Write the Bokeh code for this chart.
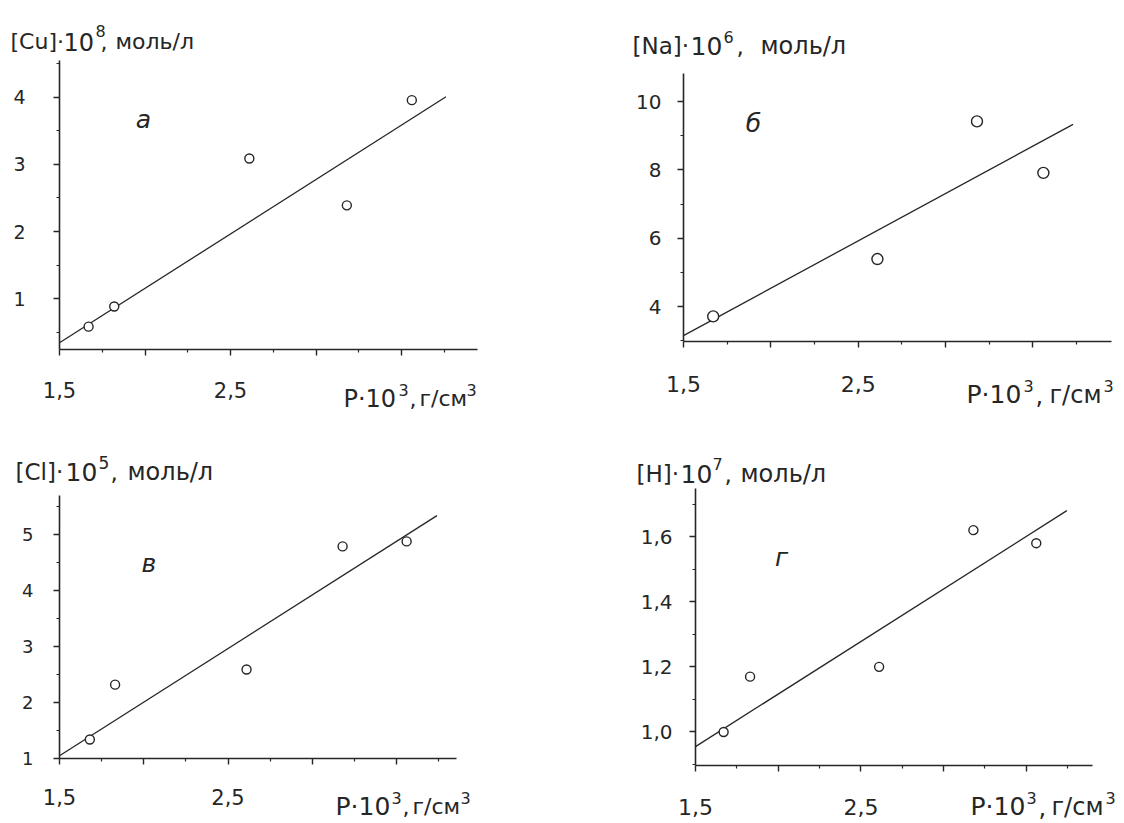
from bokeh.plotting import figure
from bokeh.models import FixedTicker, Label
from bokeh.layouts import column, row
from bokeh.embed import file_html
from bokeh.resources import INLINE

FONT = "DejaVu Sans"
INK = "#262626"

# ---------------- data ----------------
# density P*10^3, g/cm^3
cu_x = [1.67, 1.82, 2.61, 3.18, 3.56]
cu_y = [0.58, 0.88, 3.09, 2.39, 3.96]
cu_fit_x = [1.5, 3.76]
cu_fit_y = [0.34, 4.01]

na_x = [1.67, 2.61, 3.18, 3.56]
na_y = [3.71, 5.39, 9.42, 7.91]
na_fit_x = [1.5, 3.73]
na_fit_y = [3.15, 9.33]

cl_x = [1.68, 1.83, 2.61, 3.18, 3.56]
cl_y = [1.34, 2.32, 2.59, 4.79, 4.88]
cl_fit_x = [1.5, 3.74]
cl_fit_y = [1.05, 5.34]

h_x = [1.67, 1.83, 2.61, 3.18, 3.56]
h_y = [1.00, 1.17, 1.20, 1.62, 1.58]
h_fit_x = [1.5, 3.745]
h_fit_y = [0.955, 1.68]

x_major = [1.5, 2.0, 2.5, 3.0, 3.5]
x_minor = [1.75, 2.25, 2.75, 3.25, 3.75]
x_labels = ["1,5", "", "2,5", "", ""]

cu_major = [1, 2, 3, 4]
cu_minor = [0.5, 1.5, 2.5, 3.5, 4.5]
cu_labels = ["1", "2", "3", "4"]

na_major = [4, 6, 8, 10]
na_minor = [3, 5, 7, 9]
na_labels = ["4", "6", "8", "10"]

cl_major = [1, 2, 3, 4, 5]
cl_minor = [1.5, 2.5, 3.5, 4.5, 5.5]
cl_labels = ["1", "2", "3", "4", "5"]

h_major = [1.0, 1.2, 1.4, 1.6]
h_minor = [0.9, 1.1, 1.3, 1.5, 1.7]
h_labels = ["1,0", "1,2", "1,4", "1,6"]

panel_letters = ["а", "б", "в", "г"]

# ---------------- panel layout specs ----------------
# ox, oy: figure position on the page; L, R, T, B: distance from figure
# edges to the axes box; xr, yr: value extent of the axes box.
specs = [
    dict(ox=0, oy=0, w=560, h=430, L=59, R=83, T=60, B=81,
         xr=(1.5, 3.944), yr=(0.239, 4.552),
         x=cu_x, y=cu_y, fx=cu_fit_x, fy=cu_fit_y, msize=9,
         ymaj=cu_major, ymin=cu_minor, ylab=cu_labels, ysize=19, ystand=28,
         xsize=21, xstand=26, letter=(panel_letters[0], 1.99, 3.67),
         title=[("[Cu]·", 10, 41, 22), ("10", 63, 41, 24), ("8", 95, 30, 16),
                (",", 100, 41, 22), ("моль/л", 115, 41, 22)],
         xl=[("P·10", 343, 398, 24), ("3", 398, 389, 16), (",", 409, 398, 22),
             ("г/см", 419, 398, 22), ("3", 466, 389, 16)]),
    dict(ox=560, oy=0, w=564, h=430, L=123, R=13, T=73, B=89,
         xr=(1.5, 3.95), yr=(2.976, 10.82),
         x=na_x, y=na_y, fx=na_fit_x, fy=na_fit_y, msize=11,
         ymaj=na_major, ymin=na_minor, ylab=na_labels, ysize=20, ystand=16,
         xsize=22, xstand=28, letter=(panel_letters[1], 1.90, 9.35),
         title=[("[Na]·", 632, 45, 23), ("10", 690, 45, 25), ("6", 723, 36, 16),
                (",", 736, 45, 23), ("моль/л", 760, 45, 24)],
         xl=[("P·10", 966, 394, 25), ("3", 1023, 385, 16), (",", 1035, 394, 24),
             ("г/см", 1049, 394, 24), ("3", 1103, 385, 16)]),
    dict(ox=0, oy=430, w=560, h=393, L=59, R=104, T=65, B=65,
         xr=(1.5, 3.856), yr=(1.0, 5.70),
         x=cl_x, y=cl_y, fx=cl_fit_x, fy=cl_fit_y, msize=9,
         ymaj=cl_major, ymin=cl_minor, ylab=cl_labels, ysize=18, ystand=20,
         xsize=21, xstand=24, letter=(panel_letters[2], 2.03, 4.48),
         title=[("[Cl]·", 15, 471, 23), ("10", 65, 471, 25), ("5", 98, 462, 17),
                (",", 110, 471, 23), ("моль/л", 127, 471, 24)],
         xl=[("P·10", 335, 806, 25), ("3", 391, 797, 16), (",", 402, 806, 22),
             ("г/см", 412, 806, 22), ("3", 460, 797, 16)]),
    dict(ox=560, oy=430, w=564, h=393, L=135, R=32, T=58, B=58,
         xr=(1.5, 3.90), yr=(0.897, 1.748),
         x=h_x, y=h_y, fx=h_fit_x, fy=h_fit_y, msize=9,
         ymaj=h_major, ymin=h_minor, ylab=h_labels, ysize=20, ystand=17,
         xsize=22, xstand=27, letter=(panel_letters[3], 2.02, 1.535),
         title=[("[H]·", 636, 473, 23), ("10", 680, 473, 25), ("7", 712, 463, 16),
                (",", 724, 473, 23), ("моль/л", 740, 473, 24)],
         xl=[("P·10", 970, 806, 25), ("3", 1026, 797, 16), (",", 1038, 806, 24),
             ("г/см", 1051, 806, 24), ("3", 1105, 797, 16)]),
]


def scales(s):
    fw = s["w"] - s["L"] - s["R"]
    fh = s["h"] - s["T"] - s["B"]
    x0, x1 = s["xr"]
    y0, y1 = s["yr"]
    kx = fw / (x1 - x0)
    ky = fh / (y1 - y0)
    full_x = (x0 - s["L"] / kx, x1 + s["R"] / kx)
    full_y = (y0 - s["B"] / ky, y1 + s["T"] / ky)
    return kx, ky, full_x, full_y


def to_data(s, px, py):
    kx, ky, full_x, full_y = scales(s)
    return full_x[0] + (px - s["ox"]) / kx, full_y[1] - (py - s["oy"]) / ky


def make_panel(s):
    kx, ky, full_x, full_y = scales(s)
    p = figure(width=s["w"], height=s["h"], x_range=full_x, y_range=full_y,
               output_backend="svg", toolbar_location=None,
               min_border=0, min_border_left=0, min_border_right=0,
               min_border_top=0, min_border_bottom=0)
    p.outline_line_color = None
    p.grid.visible = False
    p.background_fill_color = "white"
    p.border_fill_color = "white"

    xa = p.xaxis[0]
    xa.fixed_location = s["yr"][0]
    xa.bounds = s["xr"]
    xa.ticker = FixedTicker(ticks=x_major, minor_ticks=x_minor)
    xa.major_label_overrides = {t: l for t, l in zip(x_major, x_labels)}
    xa.major_label_text_font_size = f"{s['xsize']}px"
    xa.major_label_standoff = s["xstand"]

    ya = p.yaxis[0]
    ya.fixed_location = s["xr"][0]
    ya.bounds = s["yr"]
    ya.ticker = FixedTicker(ticks=s["ymaj"], minor_ticks=s["ymin"])
    ya.major_label_overrides = {t: l for t, l in zip(s["ymaj"], s["ylab"])}
    ya.major_label_text_font_size = f"{s['ysize']}px"
    ya.major_label_standoff = s["ystand"]

    for ax in (xa, ya):
        ax.axis_line_color = INK
        ax.axis_line_width = 1.6
        ax.major_tick_line_color = INK
        ax.minor_tick_line_color = INK
        ax.major_tick_line_width = 1.4
        ax.minor_tick_line_width = 1.2
        ax.major_tick_out = 6
        ax.major_tick_in = 0
        ax.minor_tick_out = 3
        ax.minor_tick_in = 0
        ax.major_label_text_font = FONT
        ax.major_label_text_color = INK

    p.line(s["fx"], s["fy"], line_color=INK, line_width=1.3)
    p.scatter(s["x"], s["y"], marker="circle", size=s["msize"],
              fill_color="white", line_color=INK, line_width=1.4)

    txt, lx, ly = s["letter"]
    p.add_layout(Label(x=lx, y=ly, text=txt, text_font=FONT,
                       text_font_style="italic", text_font_size="25px",
                       text_color=INK, text_align="center",
                       text_baseline="middle"))

    for pieces in (s["title"], s["xl"]):
        for t, px, py, size in pieces:
            dx, dy = to_data(s, px, py)
            p.add_layout(Label(x=dx, y=dy, text=t, text_font=FONT,
                               text_font_size=f"{size}px", text_color=INK,
                               text_align="left", text_baseline="alphabetic"))
    return p


panels = [make_panel(s) for s in specs]
layout = column(row(panels[0], panels[1]), row(panels[2], panels[3]))

open("out.html", "w").write(file_html(layout, INLINE))
